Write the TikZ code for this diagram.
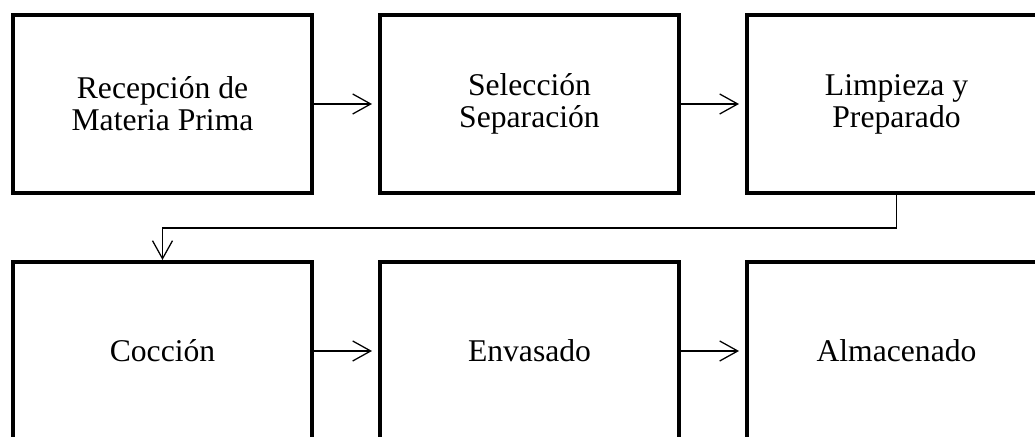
\documentclass[tikz,border=0pt]{standalone}
\usepackage{fontspec}
\setmainfont{Liberation Serif}
\usetikzlibrary{positioning,arrows.meta}

\begin{document}
\begin{tikzpicture}[
        paso/.style={draw, line width=2.4pt, minimum width=7.475cm, minimum height=4.45cm,
            inner sep=0pt, outer sep=0pt, align=center,
            font=\fontsize{22.5}{22.8}\selectfont},
        flecha/.style={line width=0.9pt, -{Straight Barb[length=0.45cm, width=0.5cm, line width=0.9pt]}},
        node distance=1.7cm and 1.7cm]

        % Rahmen
        \useasboundingbox (0,0) rectangle (25.875,10.925);
        \clip (0,0) rectangle (25.875,10.925);

        % Obere Reihe
        \node[paso] (recepcion) at (4.0625,8.325) {Recepción de\\Materia Prima};
        \node[paso, right=of recepcion] (seleccion) {Selección\\Separación};
        \node[paso, right=of seleccion] (limpieza) {Limpieza y\\Preparado};

        % Untere Reihe
        \node[paso, below=1.725cm of recepcion] (coccion) {Cocción};
        \node[paso, right=of coccion] (envasado) {Envasado};
        \node[paso, right=of envasado] (almacenado) {Almacenado};

        % Pfeile
        \draw[flecha, shorten >=0.2cm] (recepcion) -- (seleccion);
        \draw[flecha, shorten >=0.2cm] (seleccion) -- (limpieza);
        \draw[flecha, shorten >=0.2cm] (coccion) -- (envasado);
        \draw[flecha, shorten >=0.2cm] (envasado) -- (almacenado);

        % Knick
        \coordinate (knick) at (0,5.225);
        \draw[flecha, shorten >=0.05cm] (limpieza.south) -- (limpieza.south |- knick) -- (coccion.north |- knick) -- (coccion.north);
    \end{tikzpicture}
\end{document}
